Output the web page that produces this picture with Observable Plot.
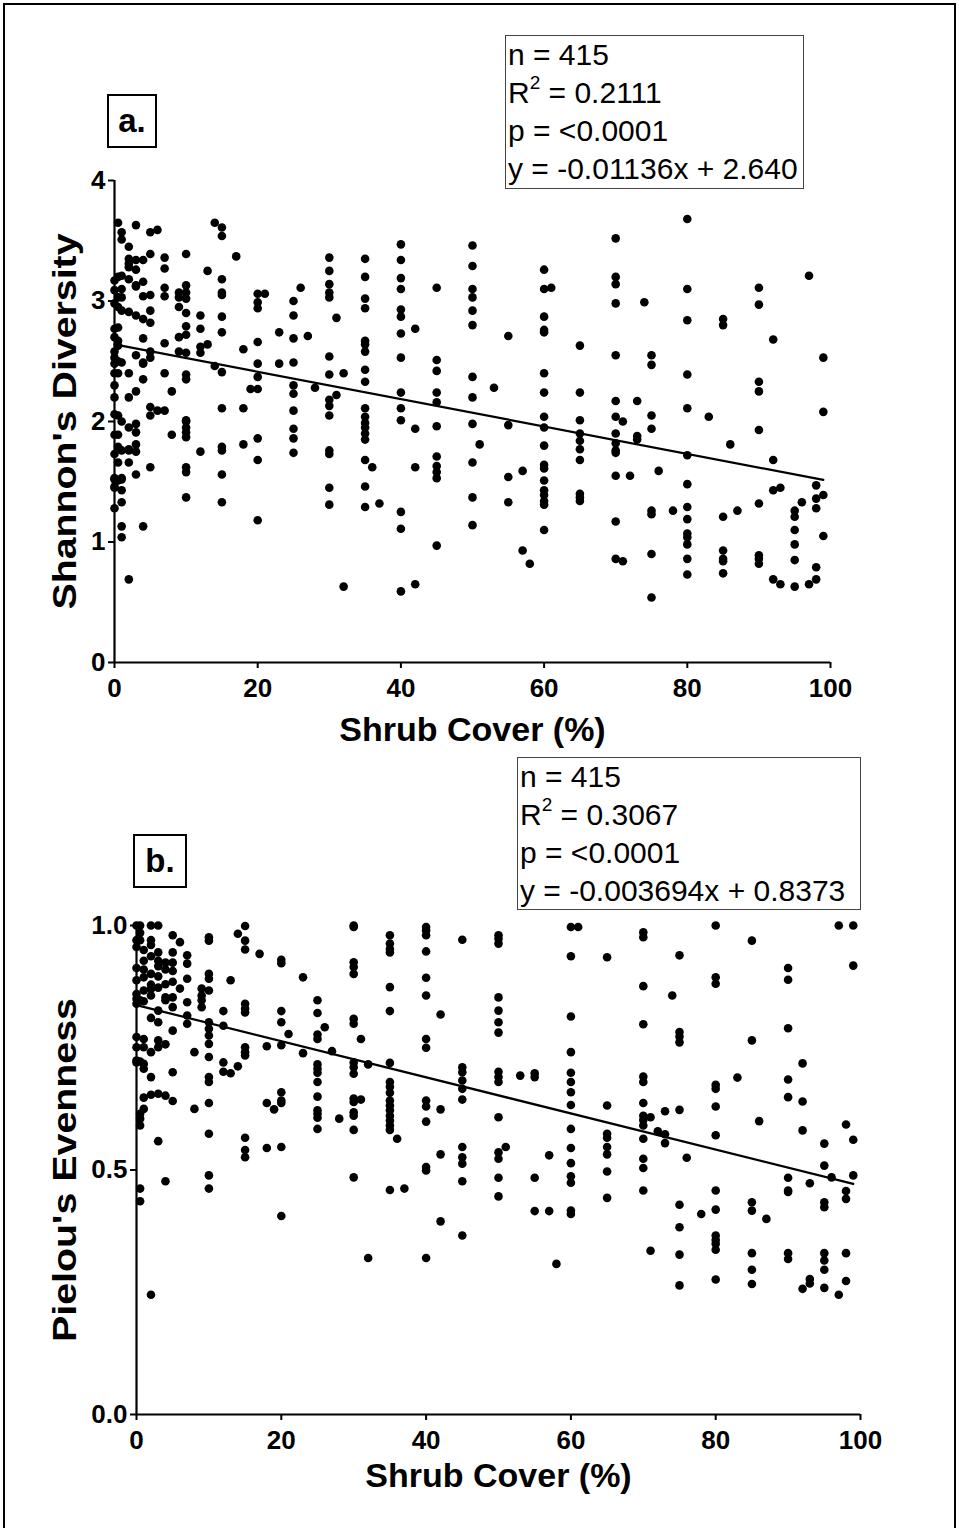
<!DOCTYPE html>
<html>
<head>
<meta charset="utf-8">
<script src="https://cdn.jsdelivr.net/npm/d3@7"></script>
<script src="https://cdn.jsdelivr.net/npm/@observablehq/plot@0.6"></script>
<style>
html, body { margin: 0; padding: 0; background: #fff; }
#page { position: relative; width: 959px; height: 1528px; overflow: hidden; font-family: "Liberation Sans", Arial, Helvetica, sans-serif; color: #000; }
#frame { position: absolute; left: 3px; top: 3px; width: 949px; height: 1540px; border: 2px solid #000; border-bottom: none; }
.panel { position: absolute; left: 0; }
.panel svg { display: block; overflow: visible; }
.stats { position: absolute; border: 1px solid #444; background: #fff; font-size: 30px; line-height: 38px; padding-left: 2px; white-space: nowrap; box-sizing: border-box; }
.stats sup { font-size: 19px; line-height: 0; position: relative; top: -3px; }
.tag { position: absolute; border: 2px solid #000; font-weight: bold; font-size: 33px; box-sizing: border-box; display: flex; align-items: center; justify-content: center; }
</style>
</head>
<body>
<div id="page">
  <div id="frame"></div>
</div>
<script>
// ---------- data ----------
const xTicks = [0, 20, 40, 60, 80, 100];
const yTicksA = [0, 1, 2, 3, 4];
const yTicksB = [0, 0.5, 1.0];
const xTitle = "Shrub Cover (%)";
const yTitleA = "Shannon's Diversity";
const yTitleB = "Pielou's Evenness";
const fitA = { slope: -0.01136, intercept: 2.640 };
const fitB = { slope: -0.003694, intercept: 0.8373 };
const fitRange = [0, 99];
const statsA = ["n = 415", "R<sup>2</sup> = 0.2111", "p = &lt;0.0001", "y = -0.01136x + 2.640"];
const statsB = ["n = 415", "R<sup>2</sup> = 0.3067", "p = &lt;0.0001", "y = -0.003694x + 0.8373"];

// panel a: shrub cover columns and Shannon diversity values in each column
const shrubA = [0, 0.5, 1, 2, 3, 4, 5, 6, 7, 8, 9, 10, 12, 13, 14, 15, 17, 18, 19, 20, 21, 23, 25, 26, 27, 28, 30, 31, 32, 35, 36, 37, 40, 42, 45, 50, 51, 53, 55, 57, 58, 60, 61, 65, 70, 71, 72, 73, 74, 75, 76, 78, 80, 83, 85, 86, 87, 90, 92, 93, 95, 96, 97, 98, 99];
const shannonA = [
  [3.09, 2.98, 2.77, 2.70, 2.58, 2.53, 2.48, 2.40, 2.30, 2.20, 2.06, 1.73, 1.52, 1.45, 1.28, 3.17, 1.89, 1.53, 1.46],
  [3.65, 3.20, 2.95, 2.63, 3.03, 2.78, 2.67, 2.50, 1.89, 1.66, 1.51, 2.40, 1.79, 2.05],
  [3.57, 3.51, 3.21, 2.92, 3.10, 3.03, 2.49, 2.00, 1.76, 1.52, 1.43, 1.33, 1.13, 1.04, 1.53],
  [3.45, 3.35, 3.31, 3.28, 3.18, 2.91, 2.40, 2.20, 1.95, 1.76, 1.66, 0.69, 1.77],
  [3.63, 3.34, 3.26, 3.13, 2.88, 2.55, 2.25, 1.98, 1.91, 1.81, 1.75, 1.56, 3.12],
  [3.34, 3.16, 3.04, 2.85, 2.69, 2.48, 2.35, 1.13, 2.49],
  [3.57, 3.39, 3.05, 2.92, 2.82, 2.58, 2.53, 2.12, 2.05, 1.62],
  [3.59, 2.09],
  [3.36, 3.27, 3.11, 3.04, 2.65, 2.40, 2.09],
  [2.25, 1.89],
  [3.07, 3.03, 2.95, 2.70, 2.58],
  [3.39, 3.13, 3.07, 3.02, 2.90, 2.79, 2.72, 2.57, 2.39, 2.35, 2.01, 2.00, 1.95, 1.91, 1.87, 1.62, 1.58, 1.37],
  [2.88, 2.77, 2.62, 2.57, 1.75],
  [3.25, 2.64],
  [3.65, 2.46],
  [3.61, 3.54, 3.18, 3.07, 3.05, 2.87, 2.74, 2.41, 2.11, 1.79, 1.76, 1.56, 1.33],
  [3.37],
  [2.60, 2.11, 1.81],
  [2.27],
  [3.06, 2.99, 2.94, 2.66, 2.48, 2.37, 2.27, 1.86, 1.68, 1.18],
  [3.06],
  [2.74, 2.48],
  [3.00, 2.88, 2.69, 2.49, 2.30, 2.23, 2.09, 1.94, 1.86, 1.74],
  [3.11],
  [2.71],
  [2.28],
  [3.36, 3.25, 3.14, 3.07, 3.03, 2.54, 2.39, 2.18, 2.13, 2.05, 1.76, 1.73, 1.45, 1.31],
  [2.86, 2.22],
  [2.40, 0.63],
  [3.35, 3.20, 3.02, 2.94, 2.67, 2.64, 2.58, 2.43, 2.33, 2.11, 2.04, 1.99, 1.95, 1.90, 1.85, 1.68, 1.46, 1.29],
  [1.62],
  [1.32],
  [3.47, 3.34, 3.19, 3.10, 2.93, 2.87, 2.73, 2.53, 2.24, 2.11, 2.01, 1.25, 1.11, 0.59],
  [2.77, 1.94, 1.62, 0.65],
  [3.11, 2.51, 2.42, 2.24, 2.16, 1.96, 1.71, 1.63, 1.58, 1.53, 0.97],
  [3.46, 3.29, 3.10, 3.03, 2.92, 2.80, 2.37, 2.20, 1.98, 1.66, 1.37, 1.14],
  [1.81],
  [2.28],
  [2.71, 1.97, 1.54, 1.33],
  [1.59, 0.93],
  [0.82],
  [3.26, 3.10, 2.87, 2.76, 2.74, 2.40, 2.24, 2.04, 1.95, 1.80, 1.64, 1.61, 1.51, 1.43, 1.39, 1.34, 1.31, 1.10],
  [3.11],
  [2.63, 2.24, 2.01, 1.90, 1.84, 1.77, 1.68, 1.40, 1.37, 1.34],
  [3.52, 3.20, 3.14, 2.98, 2.55, 2.17, 2.04, 1.90, 1.82, 1.76, 1.74, 1.55, 1.17, 0.86],
  [2.00, 0.84],
  [1.55],
  [2.17, 1.88, 1.85],
  [2.99],
  [2.55, 2.47, 2.05, 1.94, 1.26, 1.23, 0.90, 0.54],
  [1.59],
  [1.26],
  [3.68, 3.10, 2.84, 2.39, 2.11, 1.72, 1.48, 1.29, 1.19, 1.07, 1.04, 0.98, 0.86, 0.73],
  [2.04],
  [2.85, 2.80, 1.21, 0.93, 0.86, 0.84, 0.74],
  [1.81],
  [1.26],
  [3.11, 2.97, 2.33, 2.25, 1.93, 1.32, 0.89, 0.86, 0.82],
  [2.68, 1.68, 1.43, 0.69],
  [1.45, 0.65],
  [1.26, 1.21, 1.10, 0.98, 0.85, 0.63],
  [1.33],
  [3.21, 0.65],
  [1.47, 1.36, 1.28, 0.79, 0.69],
  [2.53, 2.08, 1.39, 1.05]
];

// panel b: shrub cover columns and Pielou evenness values in each column
const shrubB = [0, 0.5, 1, 2, 3, 4, 5, 6, 7, 8, 9, 10, 12, 13, 14, 15, 17, 18, 19, 20, 21, 23, 25, 26, 27, 28, 30, 31, 32, 35, 36, 37, 40, 42, 45, 50, 51, 53, 55, 57, 58, 60, 61, 65, 70, 71, 72, 73, 74, 75, 76, 78, 80, 83, 85, 86, 87, 90, 92, 93, 95, 96, 97, 98, 99];
const pielouB = [
  [1.0, 0.97, 0.956, 0.913, 0.888, 0.86, 0.85, 0.84, 0.772, 0.751, 0.724, 0.72],
  [1.0, 0.97, 0.985, 0.847, 0.722, 0.615, 0.605, 0.591, 0.462, 0.436],
  [0.95, 0.928, 0.91, 0.894, 0.867, 0.845, 0.768, 0.751, 0.717, 0.707, 0.648, 0.625],
  [1.0, 0.97, 0.96, 0.937, 0.901, 0.879, 0.87, 0.857, 0.811, 0.741, 0.69, 0.654, 0.245],
  [1.0, 0.945, 0.928, 0.917, 0.896, 0.873, 0.826, 0.802, 0.765, 0.751, 0.656, 0.559],
  [0.924, 0.91, 0.88, 0.853, 0.847, 0.757, 0.652, 0.477],
  [0.98, 0.945, 0.924, 0.907, 0.885, 0.853, 0.833, 0.785, 0.70, 0.641],
  [0.966, 0.871],
  [0.939, 0.922, 0.891, 0.843, 0.816, 0.799],
  [0.741, 0.625],
  [0.871, 0.857, 0.847, 0.833],
  [0.976, 0.969, 0.901, 0.891, 0.867, 0.802, 0.789, 0.775, 0.758, 0.731, 0.690, 0.680, 0.637, 0.574, 0.489, 0.462],
  [0.825, 0.795, 0.72, 0.701],
  [0.888, 0.698],
  [0.983, 0.712],
  [0.999, 0.969, 0.951, 0.840, 0.830, 0.822, 0.751, 0.741, 0.734, 0.566, 0.541, 0.526],
  [0.942],
  [0.753, 0.637, 0.545],
  [0.624],
  [0.930, 0.923, 0.825, 0.802, 0.755, 0.659, 0.642, 0.637, 0.547, 0.406],
  [0.778],
  [0.894, 0.739],
  [0.847, 0.821, 0.777, 0.768, 0.716, 0.707, 0.699, 0.680, 0.650, 0.622, 0.615, 0.607, 0.584],
  [0.792],
  [0.743],
  [0.605],
  [1.0, 0.997, 0.925, 0.915, 0.901, 0.809, 0.799, 0.720, 0.710, 0.697, 0.646, 0.639, 0.618, 0.611, 0.582, 0.485],
  [0.768, 0.644],
  [0.716, 0.320],
  [0.980, 0.963, 0.952, 0.945, 0.874, 0.825, 0.719, 0.680, 0.670, 0.658, 0.642, 0.632, 0.622, 0.611, 0.601, 0.591, 0.582, 0.459],
  [0.564],
  [0.462],
  [0.997, 0.990, 0.980, 0.947, 0.893, 0.857, 0.768, 0.750, 0.642, 0.630, 0.599, 0.506, 0.499, 0.320],
  [0.818, 0.624, 0.532, 0.395],
  [0.971, 0.710, 0.700, 0.683, 0.666, 0.644, 0.547, 0.526, 0.513, 0.477, 0.366],
  [0.980, 0.973, 0.963, 0.853, 0.826, 0.802, 0.781, 0.701, 0.690, 0.680, 0.608, 0.536, 0.523, 0.484, 0.446],
  [0.547],
  [0.693],
  [0.698, 0.690, 0.484, 0.416],
  [0.530, 0.416],
  [0.308],
  [0.997, 0.937, 0.814, 0.741, 0.699, 0.680, 0.659, 0.633, 0.584, 0.545, 0.514, 0.487, 0.474, 0.417, 0.410],
  [0.997],
  [0.935, 0.632, 0.574, 0.566, 0.547, 0.532, 0.497, 0.443],
  [0.986, 0.976, 0.876, 0.798, 0.691, 0.680, 0.637, 0.611, 0.602, 0.591, 0.564, 0.523, 0.504, 0.458],
  [0.608, 0.335],
  [0.579],
  [0.620, 0.573, 0.555],
  [0.857],
  [0.939, 0.782, 0.773, 0.761, 0.623, 0.429, 0.383, 0.327, 0.264],
  [0.525],
  [0.410],
  [1.0, 0.894, 0.881, 0.674, 0.666, 0.630, 0.571, 0.458, 0.419, 0.366, 0.357, 0.349, 0.337, 0.276],
  [0.689],
  [0.969, 0.765, 0.434, 0.417, 0.330, 0.296, 0.267],
  [0.600],
  [0.400],
  [0.913, 0.889, 0.790, 0.685, 0.649, 0.484, 0.458, 0.455, 0.330, 0.318],
  [0.718, 0.640, 0.581, 0.257],
  [0.473, 0.277, 0.268],
  [0.554, 0.509, 0.434, 0.424, 0.330, 0.315, 0.296, 0.259],
  [0.485],
  [1.0, 0.245],
  [0.593, 0.457, 0.441, 0.330, 0.273],
  [1.0, 0.918, 0.562, 0.489]
];

// ---------- build ----------
const FONT = '"Liberation Sans", Arial, Helvetica, sans-serif';
const toPoints = (xs, ys) => xs.flatMap((x, i) => ys[i].map(y => ({ x, y })));
const fitLine = fit => fitRange.map(x => ({ x, y: fit.slope * x + fit.intercept }));

function panel(cfg) {
  const svg = Plot.plot({
    width: 959,
    height: cfg.height,
    marginLeft: cfg.ml, marginRight: cfg.mr, marginTop: cfg.mt, marginBottom: cfg.mb,
    style: { fontFamily: FONT, background: "transparent", color: "#000", overflow: "visible" },
    x: { domain: [0, 100] },
    y: { domain: cfg.yDomain },
    marks: [
      Plot.axisX({ ticks: xTicks, tickSize: 6, tickPadding: 10, tickFormat: d => String(d), label: null, fontSize: 26, fontWeight: "bold", strokeWidth: 2, fill: "#000" }),
      Plot.axisY({ ticks: cfg.yTicks, tickSize: 6, tickPadding: 3, tickFormat: cfg.yFormat, label: null, fontSize: 26, fontWeight: "bold", strokeWidth: 2, fill: "#000" }),
      Plot.ruleY([cfg.yDomain[0]], { stroke: "#000", strokeWidth: 2.2 }),
      Plot.ruleX([0], { stroke: "#000", strokeWidth: 2.2 }),
      Plot.dot(cfg.points, { x: "x", y: "y", r: 4.3, fill: "#000", stroke: "none" }),
      Plot.line(cfg.fit, { x: "x", y: "y", stroke: "#000", strokeWidth: 2.2 }),
      Plot.text([xTitle], { text: d => d, frameAnchor: "bottom", dy: cfg.xTitleDy, fontSize: 34, fontWeight: "bold", fill: "#000" }),
      Plot.text([cfg.yTitle], { text: d => d, frameAnchor: "left", textAnchor: "middle", dx: cfg.yTitleDx, rotate: -90, fontSize: 34, fontWeight: "bold", fill: "#000" })
    ]
  });
  // stretch the rotated title along its length, as in the reference
  svg.querySelectorAll("text").forEach(t => {
    if (t.textContent === cfg.yTitle) {
      t.setAttribute("textLength", cfg.yTitleLength);
      t.setAttribute("lengthAdjust", "spacingAndGlyphs");
    }
  });
  return svg;
}

const page = document.getElementById("page");

function addPanel(top, svg) {
  const d = document.createElement("div");
  d.className = "panel";
  d.style.top = top + "px";
  d.appendChild(svg);
  page.appendChild(d);
}

function addStats(lines, left, top, width, height) {
  const d = document.createElement("div");
  d.className = "stats";
  Object.assign(d.style, { left: left + "px", top: top + "px", width: width + "px", height: height + "px" });
  d.innerHTML = lines.map(l => `<div>${l}</div>`).join("");
  page.appendChild(d);
}

function addTag(label, left, top, w, h) {
  const d = document.createElement("div");
  d.className = "tag";
  Object.assign(d.style, { left: left + "px", top: top + "px", width: w + "px", height: h + "px" });
  d.textContent = label;
  page.appendChild(d);
}

addPanel(0, panel({
  height: 760, ml: 114, mr: 129, mt: 180, mb: 98,
  yDomain: [0, 4], yTicks: yTicksA, yFormat: d => String(d),
  points: toPoints(shrubA, shannonA), fit: fitLine(fitA),
  yTitle: yTitleA, xTitleDy: 78, yTitleDx: -49, yTitleLength: 376
}));

addPanel(760, panel({
  height: 768, ml: 136, mr: 99, mt: 165, mb: 114,
  yDomain: [0, 1], yTicks: yTicksB, yFormat: d => d.toFixed(1),
  points: toPoints(shrubB, pielouB), fit: fitLine(fitB),
  yTitle: yTitleB, xTitleDy: 72, yTitleDx: -71, yTitleLength: 344
}));

addStats(statsA, 505, 35, 299, 154);
addStats(statsB, 517, 757, 344, 153);
addTag("a.", 107, 94, 50, 54);
addTag("b.", 133, 834, 54, 54);
</script>
</body>
</html>
